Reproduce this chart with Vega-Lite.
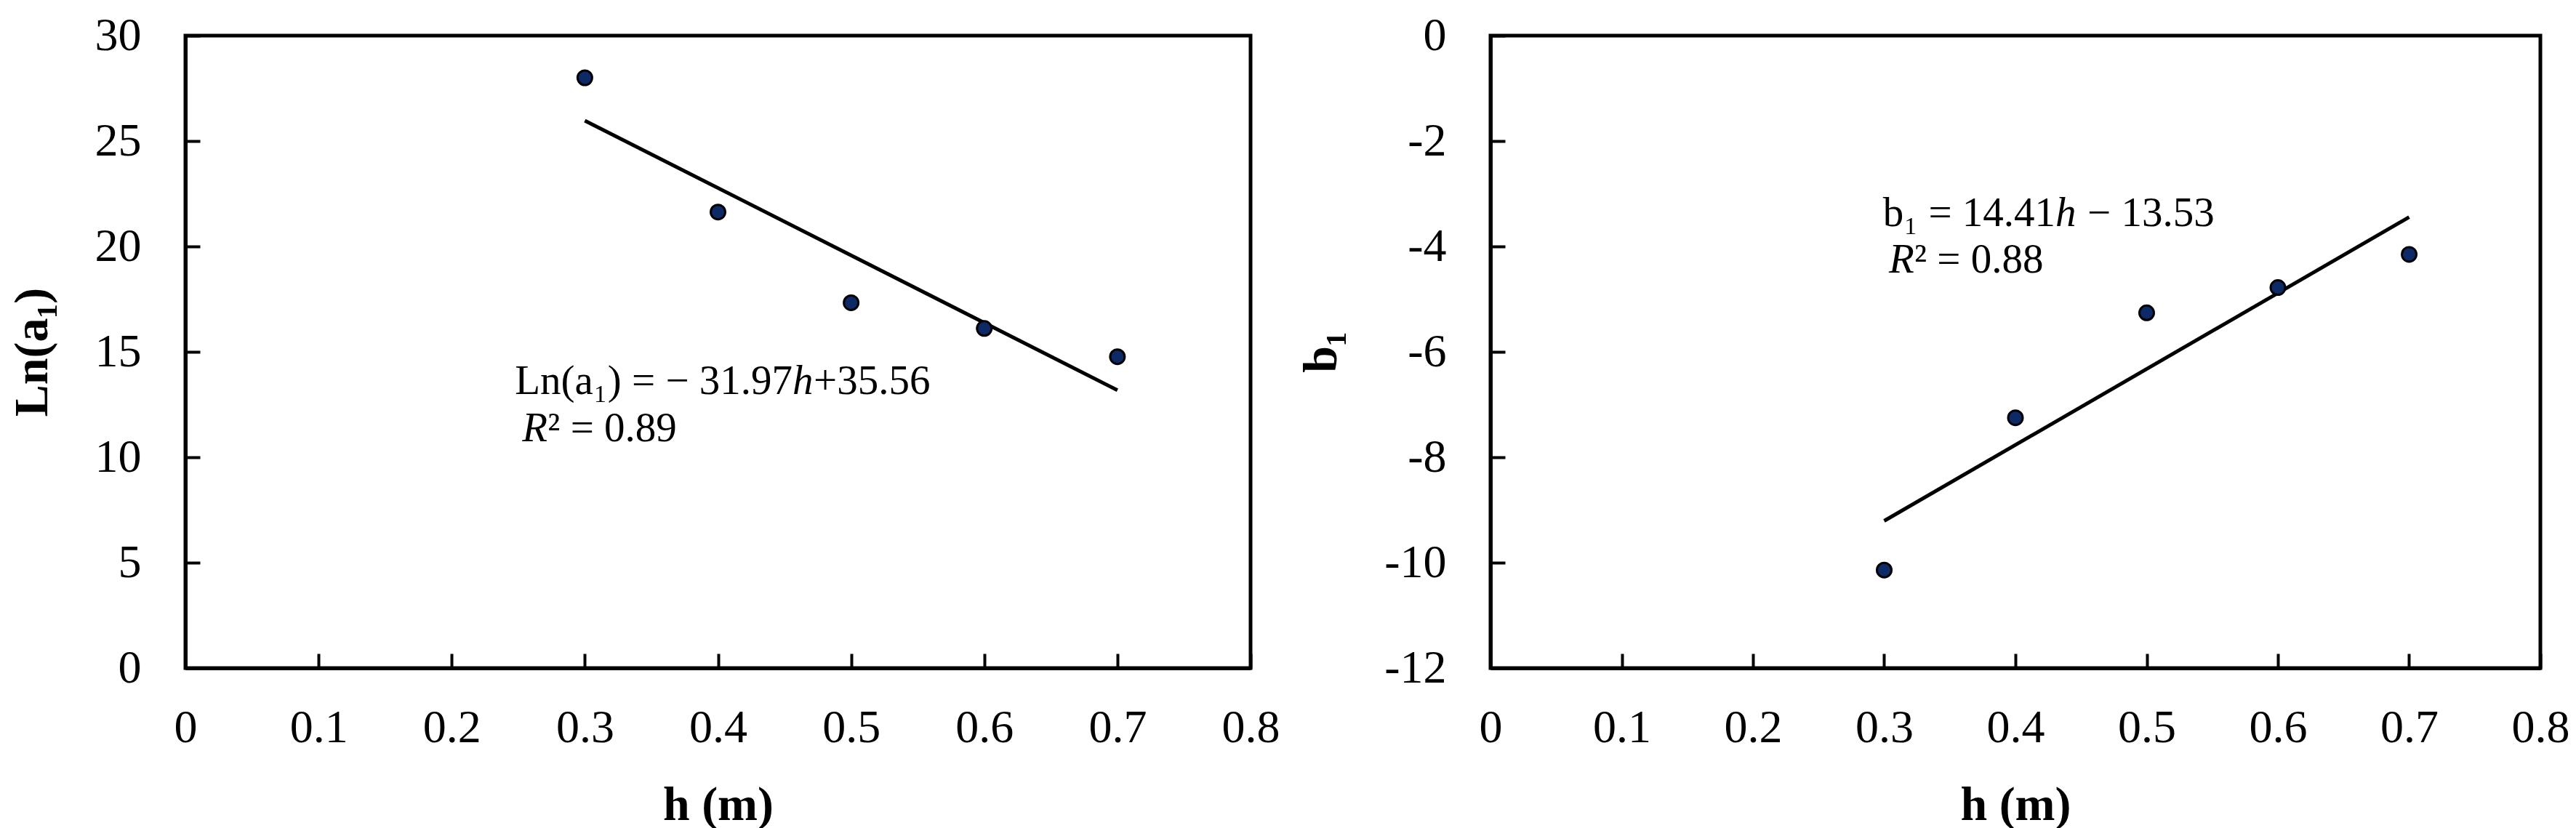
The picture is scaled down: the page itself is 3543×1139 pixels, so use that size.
{
  "$schema": "https://vega.github.io/schema/vega-lite/v6.json",
  "autosize": {"type": "pad"},
  "padding": {"left": 8, "top": 14, "right": 0, "bottom": 0},
  "background": "white",
  "config": {
    "font": "Liberation Serif",
    "view": {"stroke": "black", "strokeWidth": 5},
    "axis": {
      "grid": false,
      "domainColor": "black",
      "domainWidth": 5,
      "tickColor": "black",
      "tickWidth": 4,
      "tickSize": -20,
      "labelColor": "black",
      "labelFont": "Liberation Serif",
      "labelFontSize": 64,
      "labelExpr": "'' + datum.value",
      "titleFont": "Liberation Serif",
      "titleFontSize": 66,
      "titleFontWeight": "bold",
      "titleColor": "black"
    }
  },
  "datasets": {
    "lnA": [
      {"h": 0.3, "value": 28.0},
      {"h": 0.4, "value": 21.63},
      {"h": 0.5, "value": 17.33},
      {"h": 0.6, "value": 16.11},
      {"h": 0.7, "value": 14.77}
    ],
    "lnAFit": [
      {"h": 0.3, "value": 25.969},
      {"h": 0.7, "value": 13.181}
    ],
    "b": [
      {"h": 0.3, "value": -10.14},
      {"h": 0.4, "value": -7.25},
      {"h": 0.5, "value": -5.26},
      {"h": 0.6, "value": -4.78},
      {"h": 0.7, "value": -4.15}
    ],
    "bFit": [
      {"h": 0.3, "value": -9.207},
      {"h": 0.7, "value": -3.443}
    ],
    "one": [{}]
  },
  "spacing": 330,
  "bounds": "flush",
  "hconcat": [
    {
      "width": 1465,
      "height": 870,
      "layer": [
        {
          "data": {"name": "lnAFit"},
          "mark": {"type": "line", "color": "black", "strokeWidth": 5},
          "encoding": {
            "x": {"field": "h", "type": "quantitative", "scale": {"domain": [0, 0.8]},
              "axis": {"values": [0, 0.1, 0.2, 0.3, 0.4, 0.5, 0.6, 0.7, 0.8], "title": "h (m)", "labelPadding": 70, "titlePadding": 42, "labelFlush": false}},
            "y": {"field": "value", "type": "quantitative", "scale": {"domain": [0, 30]},
              "axis": {"values": [0, 5, 10, 15, 20, 25, 30], "title": "Ln(a₁)", "labelPadding": 81, "titlePadding": 52, "labelFlush": false}}
          }
        },
        {
          "data": {"name": "lnA"},
          "mark": {"type": "point", "filled": true, "fill": "#0d2a66", "stroke": "black", "strokeWidth": 3, "size": 400, "opacity": 1},
          "encoding": {
            "x": {"field": "h", "type": "quantitative"},
            "y": {"field": "value", "type": "quantitative"}
          }
        },
        {
          "data": {"name": "one"},
          "mark": {"type": "text", "text": "Ln(a₁) = − 31.97", "align": "right", "baseline": "alphabetic", "fontSize": 57, "color": "black"},
          "encoding": {"x": {"datum": 0.456}, "y": {"datum": 13.0}}
        },
        {
          "data": {"name": "one"},
          "mark": {"type": "text", "text": "h", "align": "left", "baseline": "alphabetic", "fontSize": 57, "fontStyle": "italic", "color": "black"},
          "encoding": {"x": {"datum": 0.456}, "y": {"datum": 13.0}}
        },
        {
          "data": {"name": "one"},
          "mark": {"type": "text", "text": "+35.56", "align": "left", "baseline": "alphabetic", "fontSize": 57, "dx": 29, "color": "black"},
          "encoding": {"x": {"datum": 0.456}, "y": {"datum": 13.0}}
        },
        {
          "data": {"name": "one"},
          "mark": {"type": "text", "text": "R", "align": "left", "baseline": "alphabetic", "fontSize": 57, "fontStyle": "italic", "color": "black"},
          "encoding": {"x": {"datum": 0.253}, "y": {"datum": 10.76}}
        },
        {
          "data": {"name": "one"},
          "mark": {"type": "text", "text": "² = 0.89", "align": "left", "baseline": "alphabetic", "fontSize": 57, "dx": 35, "color": "black"},
          "encoding": {"x": {"datum": 0.253}, "y": {"datum": 10.76}}
        }
      ]
    },
    {
      "width": 1444,
      "height": 870,
      "layer": [
        {
          "data": {"name": "bFit"},
          "mark": {"type": "line", "color": "black", "strokeWidth": 5},
          "encoding": {
            "x": {"field": "h", "type": "quantitative", "scale": {"domain": [0, 0.8]},
              "axis": {"values": [0, 0.1, 0.2, 0.3, 0.4, 0.5, 0.6, 0.7, 0.8], "title": "h (m)", "labelPadding": 70, "titlePadding": 42, "labelFlush": false}},
            "y": {"field": "value", "type": "quantitative", "scale": {"domain": [-12, 0]},
              "axis": {"values": [-12, -10, -8, -6, -4, -2, 0], "title": "b₁", "labelPadding": 81, "titlePadding": 52, "labelFlush": false}}
          }
        },
        {
          "data": {"name": "b"},
          "mark": {"type": "point", "filled": true, "fill": "#0d2a66", "stroke": "black", "strokeWidth": 3, "size": 400, "opacity": 1},
          "encoding": {
            "x": {"field": "h", "type": "quantitative"},
            "y": {"field": "value", "type": "quantitative"}
          }
        },
        {
          "data": {"name": "one"},
          "mark": {"type": "text", "text": "b₁ = 14.41", "align": "right", "baseline": "alphabetic", "fontSize": 57, "color": "black"},
          "encoding": {"x": {"datum": 0.4305}, "y": {"datum": -3.62}}
        },
        {
          "data": {"name": "one"},
          "mark": {"type": "text", "text": "h", "align": "left", "baseline": "alphabetic", "fontSize": 57, "fontStyle": "italic", "color": "black"},
          "encoding": {"x": {"datum": 0.4305}, "y": {"datum": -3.62}}
        },
        {
          "data": {"name": "one"},
          "mark": {"type": "text", "text": "− 13.53", "align": "left", "baseline": "alphabetic", "fontSize": 57, "dx": 44, "color": "black"},
          "encoding": {"x": {"datum": 0.4305}, "y": {"datum": -3.62}}
        },
        {
          "data": {"name": "one"},
          "mark": {"type": "text", "text": "R", "align": "left", "baseline": "alphabetic", "fontSize": 57, "fontStyle": "italic", "color": "black"},
          "encoding": {"x": {"datum": 0.3036}, "y": {"datum": -4.49}}
        },
        {
          "data": {"name": "one"},
          "mark": {"type": "text", "text": "² = 0.88", "align": "left", "baseline": "alphabetic", "fontSize": 57, "dx": 35, "color": "black"},
          "encoding": {"x": {"datum": 0.3036}, "y": {"datum": -4.49}}
        }
      ]
    }
  ]
}
